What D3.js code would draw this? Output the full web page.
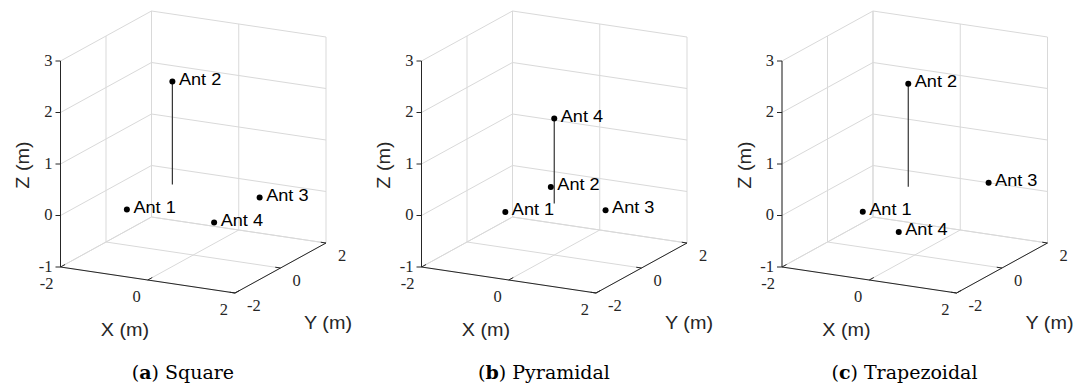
<!DOCTYPE html>
<html>
<head>
<meta charset="utf-8">
<script src="https://cdn.jsdelivr.net/npm/d3@7"></script>
<style>
  body { margin: 0; background: #fff; }
</style>
</head>
<body>
<svg id="chart"></svg>
<script>
var width = 1077,
    height = 387;

// antenna positions (metres)
var names = ["Ant 1", "Ant 2", "Ant 3", "Ant 4"];
var squareX = [-1, -1, 1, 1],
    squareY = [-1, 1, 1, -1],
    squareZ = [0, 2, 0, 0];
var pyramidX = [-0.6, -0.6, 1.15, 0],
    pyramidY = [-1, 1, 0.05, 0],
    pyramidZ = [0, 0, 0, 1.65];
var trapX = [-0.67, -0.67, 0.65, 0.65],
    trapY = [-1, 1, 2, -1.95],
    trapZ = [0, 2, 0, 0];

var xTicks = [-2, 0, 2],
    yTicks = [-2, 0, 2],
    zTicks = [-1, 0, 1, 2, 3];
var captionLetters = ["a", "b", "c"],
    captionNames = ["Square", "Pyramidal", "Trapezoidal"];

var panels = [
  { dx: 0,     xs: squareX,  ys: squareY,  zs: squareZ },
  { dx: 361,   xs: pyramidX, ys: pyramidY, zs: pyramidZ },
  { dx: 721.5, xs: trapX,    ys: trapY,    zs: trapZ }
];

// scales from data to fraction of each box edge
var sx = d3.scaleLinear().domain([-2, 2]).range([0, 1]),
    sy = d3.scaleLinear().domain([-2, 2]).range([0, 1]),
    sz = d3.scaleLinear().domain([-1, 3]).range([0, 1]);

// screen vectors of the box edges (view az -37.5, el 30)
var corner = [60.5, 267],
    EX = [174.5, 26],
    EY = [91, -50],
    EZ = [0, -206];

function proj(x, y, z) {
  var a = sx(x), b = sy(y), c = sz(z);
  return [corner[0] + a * EX[0] + b * EY[0] + c * EZ[0],
          corner[1] + a * EX[1] + b * EY[1] + c * EZ[1]];
}

// matlab text comes out a little wide in the figure
function at(x, y, rot) {
  return "translate(" + x + "," + y + ")" + (rot ? " rotate(" + rot + ")" : "") + " scale(1.1,1)";
}

var line = d3.line();
var sans = "'Liberation Sans', Arial, sans-serif";

var svg = d3.select("#chart").attr("width", width).attr("height", height);

panels.forEach(function(p, i) {
  var g = svg.append("g").attr("transform", "translate(" + p.dx + ",0)");

  // grid
  var grid = [];
  zTicks.forEach(function(z) {
    grid.push([proj(-2, -2, z), proj(-2, 2, z), proj(2, 2, z)]);
  });
  yTicks.forEach(function(y) {
    grid.push([proj(-2, y, 3), proj(-2, y, -1), proj(2, y, -1)]);
  });
  xTicks.forEach(function(x) {
    grid.push([proj(x, 2, 3), proj(x, 2, -1), proj(x, -2, -1)]);
  });
  g.append("g").selectAll("path")
    .data(grid)
    .enter().append("path")
    .attr("d", line)
    .attr("fill", "none")
    .attr("stroke", "#d9d9d9")
    .attr("stroke-width", 1);

  // axes
  var axes = [
    [proj(-2, -2, -1), proj(2, -2, -1)],
    [proj(2, -2, -1), proj(2, 2, -1)],
    [proj(-2, -2, -1), proj(-2, -2, 3)]
  ];
  xTicks.forEach(function(x) { axes.push([proj(x, -2, -1), proj(x, -1.8, -1)]); });
  yTicks.forEach(function(y) { axes.push([proj(2, y, -1), proj(1.88, y, -1)]); });
  zTicks.forEach(function(z) {
    var q = proj(-2, -2, z);
    axes.push([q, [q[0] - 5, q[1]]]);
  });
  g.append("g").selectAll("path")
    .data(axes)
    .enter().append("path")
    .attr("d", line)
    .attr("fill", "none")
    .attr("stroke", "#262626")
    .attr("stroke-width", 1);

  // tick labels
  var tl = g.append("g")
    .attr("font-family", "'Liberation Serif', serif")
    .attr("font-size", 16.5)
    .attr("fill", "#262626");
  tl.selectAll(".xt").data(xTicks).enter().append("text")
    .attr("x", function(d) { return proj(d, -2, -1)[0] - 7; })
    .attr("y", function(d) { return proj(d, -2, -1)[1] + 21.5; })
    .attr("text-anchor", "end")
    .text(function(d) { return d; });
  tl.selectAll(".yt").data(yTicks).enter().append("text")
    .attr("x", function(d) { return proj(2, d, -1)[0] + 12; })
    .attr("y", function(d) { return proj(2, d, -1)[1] + 17.5; })
    .attr("text-anchor", "start")
    .text(function(d) { return d; });
  tl.selectAll(".zt").data(zTicks).enter().append("text")
    .attr("x", function(d) { return proj(-2, -2, d)[0] - 8; })
    .attr("y", function(d) { return proj(-2, -2, d)[1] + 4.5; })
    .attr("text-anchor", "end")
    .text(function(d) { return d; });

  // axis labels
  var al = g.append("g")
    .attr("font-family", sans)
    .attr("font-size", 18)
    .attr("fill", "#262626")
    .attr("text-anchor", "middle");
  al.append("text").attr("transform", at(125, 336)).text("X (m)");
  al.append("text").attr("transform", at(328, 329)).text("Y (m)");
  al.append("text").attr("transform", at(29, 165, -90)).text("Z (m)");

  // stems and points
  var pts = names.map(function(n, k) {
    return { name: n, x: p.xs[k], y: p.ys[k], z: p.zs[k] };
  });
  g.append("g").selectAll("path")
    .data(pts.filter(function(d) { return d.z > 0; }))
    .enter().append("path")
    .attr("d", function(d) { return line([proj(d.x, d.y, d.z), proj(d.x, d.y, 0)]); })
    .attr("stroke", "#333")
    .attr("stroke-width", 1.2);
  g.append("g").selectAll("circle")
    .data(pts)
    .enter().append("circle")
    .attr("cx", function(d) { return proj(d.x, d.y, d.z)[0]; })
    .attr("cy", function(d) { return proj(d.x, d.y, d.z)[1]; })
    .attr("r", 3)
    .attr("fill", "#000");
  g.append("g").selectAll("text")
    .data(pts)
    .enter().append("text")
    .attr("transform", function(d) {
      var q = proj(d.x, d.y, d.z);
      return at(q[0] + 6.5, q[1] + 3);
    })
    .attr("font-family", sans)
    .attr("font-size", 16.5)
    .attr("fill", "#000")
    .text(function(d) { return d.name; });

  // caption
  var cap = g.append("text")
    .attr("x", 183)
    .attr("y", 379)
    .attr("text-anchor", "middle")
    .attr("font-family", "'DejaVu Serif', serif")
    .attr("font-size", 19)
    .attr("fill", "#000");
  cap.append("tspan").text("(");
  cap.append("tspan").attr("font-weight", "bold").text(captionLetters[i]);
  cap.append("tspan").text(") " + captionNames[i]);
});
</script>
</body>
</html>
